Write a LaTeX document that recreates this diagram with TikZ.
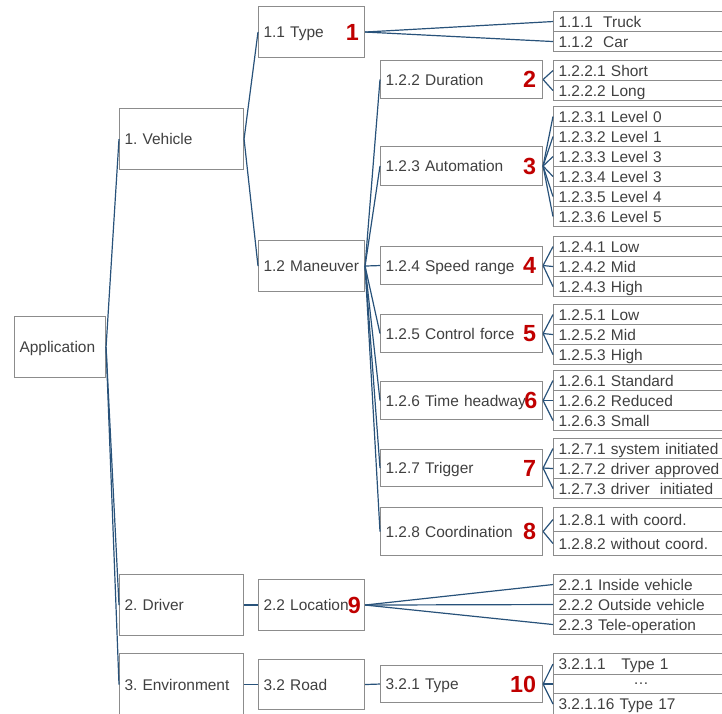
\documentclass[tikz,border=0pt]{standalone}
\usepackage{fontspec}
\setmainfont{Liberation Sans}
\frenchspacing
\definecolor{boxgray}{RGB}{140,140,140}
\definecolor{txtgray}{RGB}{64,64,64}
\definecolor{connblue}{RGB}{40,82,122}
\definecolor{numred}{RGB}{192,0,0}
\tikzset{
  box/.style={draw=boxgray, line width=0.8pt, anchor=north west, inner xsep=3.75pt, inner ysep=0pt,
    align=left, text=txtgray, font=\fontsize{11.6}{13.9}\selectfont},
  conn/.style={draw=connblue, line width=0.9pt},
  num/.style={text=numred, font=\fontsize{17.5}{20}\selectfont\bfseries, inner sep=0pt, anchor=east}
}
\newcommand\mystrut{\rule[-3pt]{0pt}{14.3pt}}
\newcommand\mkbox[6]{\node[box, text width=\dimexpr #4pt*3/4-7.5pt\relax, minimum height=#5*0.75pt] (#1) at (#2,#3) {\mystrut #6};}
\newcommand\mkleaf[3]{\mkbox{#1}{553}{#2}{175}{20}{#3}}
\begin{document}
\begin{tikzpicture}[x=0.75pt,y=-0.75pt]
\useasboundingbox (0,0) rectangle (722,714);
% level 0-2
\mkbox{app}{14}{316}{91}{61}{Application}
\mkbox{veh}{119}{108}{124}{61}{1. Vehicle}
\mkbox{drv}{119}{574}{124}{61}{2. Driver}
\mkbox{env}{119}{653}{124}{62}{3. Environment}
\mkbox{typ}{258}{6}{106}{51}{1.1 Type}
\mkbox{man}{258}{240}{106}{51}{1.2 Maneuver}
\mkbox{loc}{258}{579}{106}{51}{2.2 Location}
\mkbox{road}{258}{659}{106}{50}{3.2 Road}
% level 3
\mkbox{dur}{380}{60}{162}{38}{1.2.2 Duration}
\mkbox{aut}{380}{146}{162}{39}{1.2.3 Automation}
\mkbox{spd}{380}{246}{162}{38}{1.2.4 Speed range}
\mkbox{ctl}{380}{314}{162}{38}{1.2.5 Control force}
\mkbox{thw}{380}{381}{162}{38}{1.2.6 Time headway}
\mkbox{trg}{380}{449}{162}{37}{1.2.7 Trigger}
\mkbox{crd}{380}{507}{162}{48}{1.2.8 Coordination}
\mkbox{rtyp}{380}{665}{162}{37}{3.2.1 Type}
% leaves
\mkleaf{l111}{11}{1.1.1\ \ Truck}
\mkleaf{l112}{31}{1.1.2\ \ Car}
\mkleaf{l1221}{60}{1.2.2.1 Short}
\mkleaf{l1222}{80}{1.2.2.2 Long}
\mkleaf{l1231}{106}{1.2.3.1 Level 0}
\mkleaf{l1232}{126}{1.2.3.2 Level 1}
\mkleaf{l1233}{146}{1.2.3.3 Level 3}
\mkleaf{l1234}{166}{1.2.3.4 Level 3}
\mkleaf{l1235}{186}{1.2.3.5 Level 4}
\mkleaf{l1236}{206}{1.2.3.6 Level 5}
\mkleaf{l1241}{236}{1.2.4.1 Low}
\mkleaf{l1242}{256}{1.2.4.2 Mid}
\mkleaf{l1243}{276}{1.2.4.3 High}
\mkleaf{l1251}{304}{1.2.5.1 Low}
\mkleaf{l1252}{324}{1.2.5.2 Mid}
\mkleaf{l1253}{344}{1.2.5.3 High}
\mkleaf{l1261}{370}{1.2.6.1 Standard}
\mkleaf{l1262}{390}{1.2.6.2 Reduced}
\mkleaf{l1263}{410}{1.2.6.3 Small}
\mkleaf{l1271}{438}{1.2.7.1 system initiated}
\mkleaf{l1272}{458}{1.2.7.2 driver approved}
\mkleaf{l1273}{478}{1.2.7.3 driver\ \ initiated}
\mkbox{l1281}{553}{507}{175}{24}{1.2.8.1 with coord.}
\mkbox{l1282}{553}{531}{175}{24}{1.2.8.2 without coord.}
\mkleaf{l221}{574}{2.2.1 Inside vehicle}
\mkleaf{l222}{594}{2.2.2 Outside vehicle}
\mkleaf{l223}{614}{2.2.3 Tele-operation}
\mkbox{l3211}{553}{653}{175}{21}{3.2.1.1\ \ \ Type 1}
\node[box, minimum width=175*0.75pt, minimum height=19*0.75pt, align=center] (l321x) at (553,674) {\dots};
\mkbox{l32116}{553}{693}{175}{21}{3.2.1.16 Type 17}
% red numbers
\node[num] (n1) at ([xshift=-4.5pt]typ.east) {1};
\node[num] (n2) at ([xshift=-5pt]dur.east) {2};
\node[num] (n3) at ([xshift=-5pt]aut.east) {3};
\node[num] (n4) at ([xshift=-5pt]spd.east) {4};
\node[num] (n5) at ([xshift=-5pt]ctl.east) {5};
\node[num] (n6) at ([xshift=-4pt]thw.east) {6};
\node[num] (n7) at ([xshift=-5pt]trg.east) {7};
\node[num] (n8) at ([xshift=-5pt]crd.east) {8};
\node[num] (n9) at ([xshift=-3pt]loc.east) {9};
\node[num] (n10) at ([xshift=-5pt]rtyp.east) {10};
% connectors
\foreach \c in {veh,drv,env} \draw[conn] (app.east) -- (\c.west);
\foreach \c in {typ,man} \draw[conn] (veh.east) -- (\c.west);
\draw[conn] (drv.east) -- (loc.west);
\draw[conn] (env.east) -- (road.west);
\draw[conn] (road.east) -- (rtyp.west);
\foreach \c in {dur,aut,spd,ctl,thw,trg,crd} \draw[conn] (man.east) -- (\c.west);
\foreach \c in {l111,l112} \draw[conn] (typ.east) -- (\c.west);
\foreach \c in {l1221,l1222} \draw[conn] (dur.east) -- (\c.west);
\foreach \c in {l1231,l1232,l1233,l1234,l1235,l1236} \draw[conn] (aut.east) -- (\c.west);
\foreach \c in {l1241,l1242,l1243} \draw[conn] (spd.east) -- (\c.west);
\foreach \c in {l1251,l1252,l1253} \draw[conn] (ctl.east) -- (\c.west);
\foreach \c in {l1261,l1262,l1263} \draw[conn] (thw.east) -- (\c.west);
\foreach \c in {l1271,l1272,l1273} \draw[conn] (trg.east) -- (\c.west);
\foreach \c in {l1281,l1282} \draw[conn] (crd.east) -- (\c.west);
\foreach \c in {l221,l222,l223} \draw[conn] (loc.east) -- (\c.west);
\foreach \c in {l3211,l321x,l32116} \draw[conn] (rtyp.east) -- (\c.west);
\end{tikzpicture}
\end{document}
